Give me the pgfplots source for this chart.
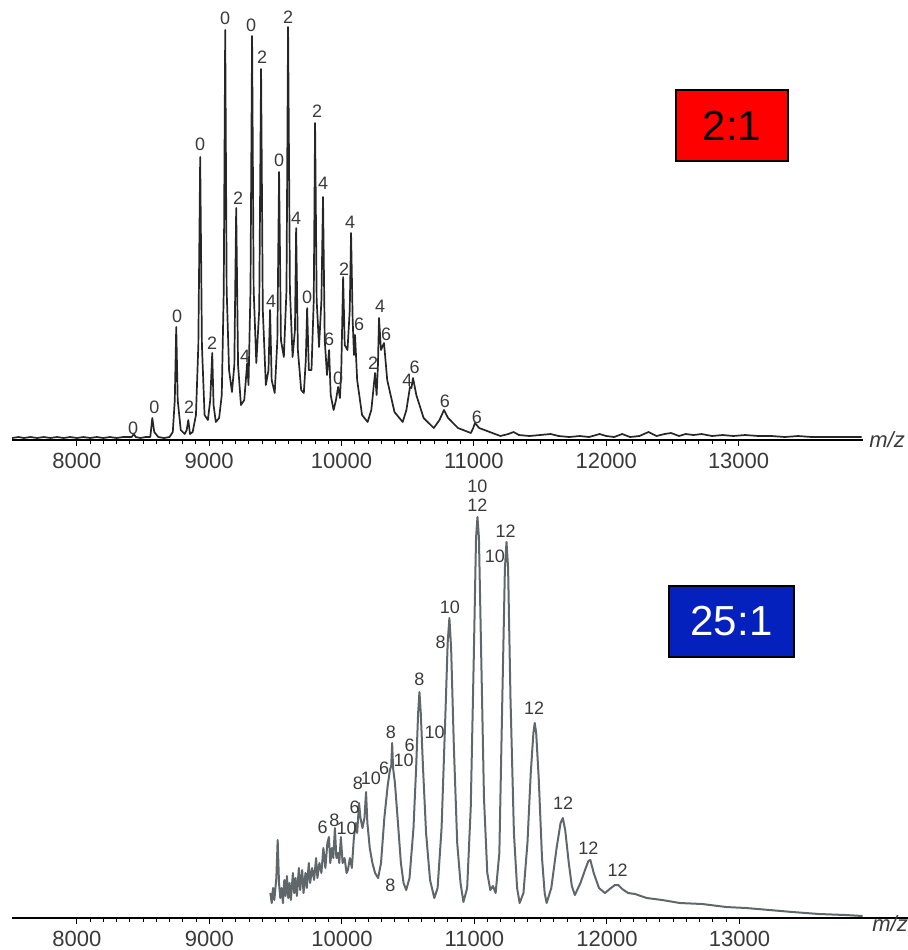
\documentclass[border=0pt]{standalone}
\usepackage{fontspec}
\setmainfont{Liberation Sans}
\usepackage{pgfplots}
\pgfplotsset{compat=1.18}
\definecolor{topline}{HTML}{262626}
\definecolor{botline}{HTML}{5F676B}
\definecolor{lab}{HTML}{3A3A3A}
\definecolor{boxred}{HTML}{FF0000}
\definecolor{boxblue}{HTML}{0421BE}

\pgfplotsset{spec/.style={
  scale only axis, axis x line=bottom, axis y line=none,
  x axis line style={-, line width=0.9pt},
  xmin=7510, ymin=0, clip=false, scaled x ticks=false,
  tick align=outside, xtick={8000,9000,...,13000}, minor x tick num=9,
  major tick length=3pt, minor tick length=1.8pt,
  every tick/.style={line width=0.5pt, black},
  xticklabel style={font=\fontsize{11}{11}\selectfont, text=lab},
  /pgf/number format/.cd, 1000 sep={}, assume math mode=true}}
\tikzset{lbl/.style={font=\fontsize{9}{9}\selectfont, text=lab, inner sep=0pt}}

\begin{document}
\begin{tikzpicture}
\path[use as bounding box] (0,0) rectangle (454pt,-475pt);

% ---------------- top panel (2:1) ----------------
\begin{axis}[spec, at={(6pt,-220pt)}, anchor=south west,
  width=425.5pt, height=220pt, xmax=13940, ymax=440]
\addplot[topline, line width=0.85pt, line join=round] coordinates {
(7510,2) (7560,3) (7600,2) (7650,3) (7700,2) (7750,3) (7800,2) (7850,3) (7900,2) (7950,3)
(8000,2) (8050,3) (8100,2) (8150,3) (8200,2) (8250,3) (8300,2) (8350,3) (8400,3)
(8415,3) (8430,6) (8445,3) (8480,2) (8520,3) (8555,3) (8570,22) (8585,8) (8615,3)
(8660,2) (8700,3) (8725,8) (8740,40) (8751,113) (8762,40) (8785,10) (8815,6) (8830,10)
(8842,20) (8855,6) (8875,8) (8900,25) (8918,95) (8932,283) (8945,95) (8965,25) (8990,20)
(9008,40) (9023,87) (9033,35) (9050,18) (9075,22) (9095,45) (9110,150) (9121,410)
(9132,150) (9150,70) (9172,48) (9190,75) (9204,232) (9218,75) (9240,35) (9265,40)
(9287,77) (9297,55) (9312,150) (9324,404) (9336,150) (9356,77) (9378,130) (9392,371)
(9405,130) (9428,55) (9448,70) (9460,130) (9472,60) (9495,47) (9515,100) (9528,268)
(9542,100) (9564,83) (9584,150) (9596,413) (9610,150) (9630,83) (9648,110) (9657,212)
(9670,90) (9695,50) (9715,47) (9730,80) (9740,132) (9753,70) (9773,70) (9790,140)
(9800,317) (9812,140) (9830,93) (9848,140) (9860,243) (9873,100) (9890,65) (9906,90)
(9918,45) (9940,30) (9958,40) (9974,53) (9988,42) (9998,70) (10012,163) (10024,95)
(10045,90) (10062,130) (10072,207) (10084,120) (10094,85) (10102,105) (10118,60)
(10155,25) (10197,18) (10225,30) (10253,67) (10265,45) (10275,75) (10283,122) (10298,90)
(10321,97) (10345,60) (10400,28) (10462,18) (10490,30) (10517,53) (10528,52) (10540,62)
(10565,45) (10620,22) (10697,12) (10740,20) (10774,30) (10805,22) (10880,12) (10977,7)
(10995,12) (11008,17) (11040,12) (11100,9) (11200,4) (11260,6) (11300,8) (11340,5)
(11420,4) (11500,5) (11580,6) (11640,4) (11720,3) (11800,4) (11870,3) (11950,6)
(12000,4) (12060,3) (12120,6) (12180,3) (12250,4) (12320,8) (12380,4) (12440,6)
(12490,7) (12550,4) (12600,6) (12660,5) (12720,6) (12800,4) (12880,5) (12960,4)
(13050,5) (13150,4) (13250,4) (13350,3) (13450,4) (13550,3) (13650,3) (13750,3)
(13850,3) (13930,3)
};
\node[lbl] at (axis cs:8426,12) {0};
\node[lbl] at (axis cs:8585,33) {0};
\node[lbl] at (axis cs:8758,124) {0};
\node[lbl] at (axis cs:8849,33) {2};
\node[lbl] at (axis cs:8932,296) {0};
\node[lbl] at (axis cs:9023,97) {2};
\node[lbl] at (axis cs:9121,422) {0};
\node[lbl] at (axis cs:9219,242) {2};
\node[lbl] at (axis cs:9272,84) {4};
\node[lbl] at (axis cs:9317,415) {0};
\node[lbl] at (axis cs:9400,383) {2};
\node[lbl] at (axis cs:9468,139) {4};
\node[lbl] at (axis cs:9528,280) {0};
\node[lbl] at (axis cs:9596,423) {2};
\node[lbl] at (axis cs:9657,222) {4};
\node[lbl] at (axis cs:9740,143) {0};
\node[lbl] at (axis cs:9815,329) {2};
\node[lbl] at (axis cs:9860,257) {4};
\node[lbl] at (axis cs:9906,101) {6};
\node[lbl] at (axis cs:9974,62) {0};
\node[lbl] at (axis cs:10019,171) {2};
\node[lbl] at (axis cs:10064,218) {4};
\node[lbl] at (axis cs:10132,116) {6};
\node[lbl] at (axis cs:10238,77) {2};
\node[lbl] at (axis cs:10291,134) {4};
\node[lbl] at (axis cs:10336,106) {6};
\node[lbl] at (axis cs:10497,60) {4};
\node[lbl] at (axis cs:10552,73) {6};
\node[lbl] at (axis cs:10781,39) {6};
\node[lbl] at (axis cs:11023,23) {6};
\node[anchor=west, font=\fontsize{11}{11}\selectfont\itshape, text=lab, inner sep=0pt]
  at ([xshift=3pt]rel axis cs:1,0) {m/z};
\end{axis}

% ---------------- bottom panel (25:1) ----------------
\begin{axis}[spec, at={(6pt,-459pt)}, anchor=south west,
  width=448pt, height=225pt, xmax=14272, ymax=450]
\addplot[botline, line width=1pt, line join=round] coordinates {
(9460,25) (9470,15) (9480,30) (9490,18) (9505,40) (9515,78) (9525,35) (9535,20)
(9545,30) (9555,15) (9565,38) (9575,22) (9585,42) (9595,20) (9605,35) (9615,18)
(9630,45) (9640,25) (9650,40) (9660,22) (9675,50) (9685,28) (9700,48) (9710,25)
(9725,45) (9735,30) (9750,55) (9760,35) (9775,50) (9790,38) (9805,60) (9815,40)
(9830,55) (9845,45) (9860,70) (9875,50) (9890,75) (9902,81) (9912,55) (9925,70)
(9935,60) (9947,90) (9958,60) (9970,65) (9980,55) (9992,81) (10005,55) (10020,60)
(10035,45) (10045,48) (10060,60) (10075,50) (10090,80) (10105,95) (10115,85)
(10129,115) (10140,100) (10155,90) (10170,100) (10182,126) (10192,95) (10210,70)
(10230,55) (10250,45) (10273,40) (10295,55) (10320,100) (10345,132) (10362,148)
(10372,152) (10379,175) (10386,150) (10400,135) (10420,100) (10445,55) (10465,35)
(10485,28) (10510,40) (10540,90) (10560,150) (10575,205) (10585,226) (10595,205)
(10612,150) (10635,85) (10665,38) (10697,20) (10722,30) (10752,90) (10780,200)
(10798,275) (10811,300) (10824,270) (10845,170) (10870,75) (10895,35) (10917,16)
(10945,30) (10972,110) (10995,260) (11012,380) (11023,401) (11034,380) (11050,270)
(11072,120) (11097,45) (11120,28) (11140,32) (11160,25) (11188,65) (11212,230)
(11230,350) (11242,376) (11254,350) (11272,220) (11298,85) (11322,30) (11341,15)
(11370,25) (11400,75) (11425,145) (11445,185) (11455,195) (11466,185) (11485,140)
(11510,60) (11530,25) (11545,15) (11580,30) (11620,70) (11650,95) (11667,100)
(11685,88) (11712,55) (11735,32) (11758,23) (11800,35) (11840,50) (11860,57)
(11875,58) (11900,45) (11940,30) (11985,25) (12030,30) (12060,33) (12085,33)
(12115,29) (12160,25) (12212,24) (12300,20) (12417,18) (12550,15) (12720,14)
(12900,11) (13050,10) (13227,8) (13400,6) (13600,4) (13800,3) (13930,2)
};
\node[lbl] at (axis cs:11023,432) {10};
\node[lbl] at (axis cs:11023,413) {12};
\node[lbl] at (axis cs:11235,387) {12};
\node[lbl] at (axis cs:11155,362) {10};
\node[lbl] at (axis cs:10815,311) {10};
\node[lbl] at (axis cs:10745,276) {8};
\node[lbl] at (axis cs:10585,239) {8};
\node[lbl] at (axis cs:10700,186) {10};
\node[lbl] at (axis cs:11450,210) {12};
\node[lbl] at (axis cs:10370,186) {8};
\node[lbl] at (axis cs:10510,173) {6};
\node[lbl] at (axis cs:10465,158) {10};
\node[lbl] at (axis cs:10318,150) {6};
\node[lbl] at (axis cs:10218,140) {10};
\node[lbl] at (axis cs:10120,135) {8};
\node[lbl] at (axis cs:10095,111) {6};
\node[lbl] at (axis cs:9855,91) {6};
\node[lbl] at (axis cs:9943,98) {8};
\node[lbl] at (axis cs:10035,90) {10};
\node[lbl] at (axis cs:10365,33) {8};
\node[lbl] at (axis cs:11670,115) {12};
\node[lbl] at (axis cs:11860,70) {12};
\node[lbl] at (axis cs:12080,48) {12};
\node[anchor=north west, font=\fontsize{11}{11}\selectfont\itshape, text=lab, inner sep=0pt]
  at (axis cs:14000,3) {m/z};
\end{axis}

% ratio boxes
\node[draw=black, line width=1pt, fill=boxred, minimum width=56pt, minimum height=35.5pt,
  inner sep=0pt, font=\fontsize{21}{21}\selectfont, text=black] at (366pt,-62.75pt) {2:1};
\node[draw=black, line width=1pt, fill=boxblue, minimum width=62.5pt, minimum height=35.5pt,
  inner sep=0pt, font=\fontsize{21}{21}\selectfont, text=white] at (365.75pt,-310.75pt) {25:1};
\end{tikzpicture}
\end{document}
